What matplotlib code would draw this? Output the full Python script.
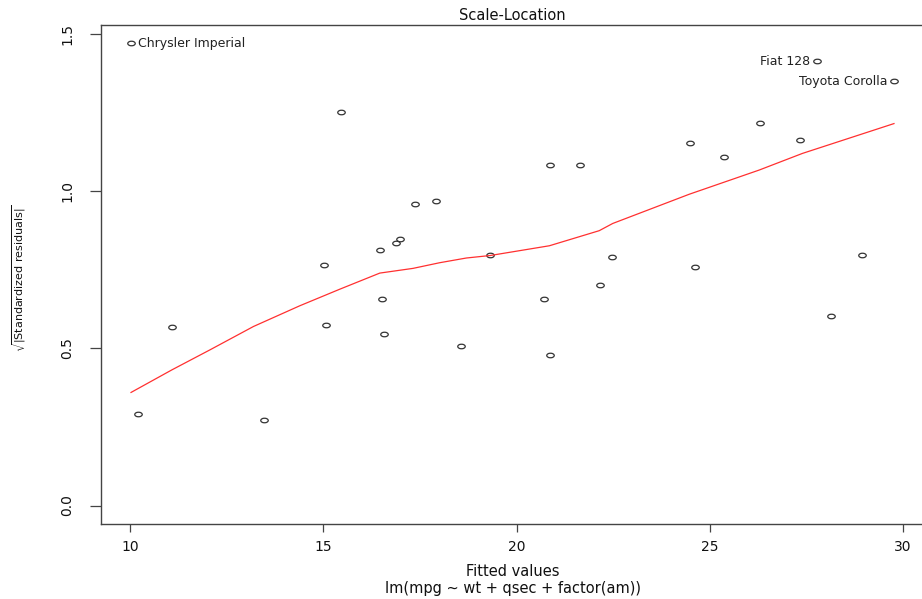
import matplotlib
matplotlib.use("Agg")
import matplotlib.pyplot as plt
from matplotlib.path import Path
from matplotlib.transforms import Affine2D

plt.rcParams['font.family'] = ['DejaVu Sans']
plt.rcParams['mathtext.fontset'] = 'dejavusans'

# fitted values and sqrt(|standardized residuals|) from lm(mpg ~ wt + qsec + factor(am))
fitted = [10.02, 27.79, 29.77, 15.46, 17.36, 17.91, 16.99, 16.87, 16.46, 15.01,
          16.51, 15.06, 16.57, 11.08, 18.57, 19.32, 10.21, 13.46, 26.31, 24.48,
          27.35, 25.36, 20.86, 21.65, 22.46, 24.63, 28.95, 22.16, 20.72, 28.14,
          20.86]
sqrt_resid = [1.471, 1.414, 1.351, 1.253, 0.960, 0.970, 0.848, 0.837, 0.815, 0.765,
              0.657, 0.575, 0.547, 0.567, 0.509, 0.798, 0.290, 0.272, 1.219, 1.154,
              1.164, 1.111, 1.085, 1.085, 0.790, 0.760, 0.798, 0.703, 0.659, 0.602,
              0.479]

# the three largest residuals get names
id_names = ["Chrysler Imperial", "Fiat 128", "Toyota Corolla"]
id_index = [0, 1, 2]
id_side = ["right", "left", "left"]

# lowess smoother
smooth_x = [10.02, 11.08, 12.07, 13.19, 14.39, 15.43, 16.46, 17.32, 18.01, 18.70,
            19.32, 20.85, 22.14, 22.49, 24.47, 26.28, 27.40, 29.77]
smooth_y = [0.360, 0.432, 0.496, 0.570, 0.636, 0.689, 0.740, 0.755, 0.773, 0.788,
            0.796, 0.827, 0.875, 0.898, 0.991, 1.068, 1.121, 1.216]

W, H = 922, 599
fig = plt.figure(figsize=(W / 100, H / 100), dpi=100)

# axes box in pixels: left 100.5, right ~924.5 (just past the edge), top 25, bottom 524
left, right, top, bottom = 100.5, 924.5, 25.0, 524.0
ax = fig.add_axes([left / W, 1 - bottom / H, (right - left) / W, (bottom - top) / H])

# R-style 4% padding around the data range
xr = max(fitted) - min(fitted)
ax.set_xlim(min(fitted) - 0.04 * xr, max(fitted) + 0.04 * xr)
yr = max(sqrt_resid)
ax.set_ylim(-0.04 * yr, yr + 0.04 * yr)

# open, slightly squashed circles
ell = Path.unit_circle().transformed(Affine2D().scale(1.65, 1.0))
ax.plot(fitted, sqrt_resid, linestyle='none', marker=ell, markersize=5.4,
        markerfacecolor='none', markeredgecolor='#333333', markeredgewidth=0.9)

ax.plot(smooth_x, smooth_y, color='#ff3030', linewidth=0.9)

for name, i, side in zip(id_names, id_index, id_side):
    dx = 5 if side == "right" else -5
    ax.annotate(name, (fitted[i], sqrt_resid[i]), xytext=(dx, 0),
                textcoords='offset points', ha='left' if side == "right" else 'right',
                va='center', fontsize=9, color='#222222')

for s in ax.spines.values():
    s.set_color('#444444')
    s.set_linewidth(1.0)

ax.set_xticks([10, 15, 20, 25, 30])
ax.set_yticks([0.0, 0.5, 1.0, 1.5])
ax.set_yticklabels(["0.0", "0.5", "1.0", "1.5"], rotation=90, va='center')
ax.tick_params(axis='x', length=5.8, width=0.9, color='#444444', pad=6,
               labelsize=10, labelcolor='#111111')
ax.tick_params(axis='y', length=8, width=0.9, color='#444444', pad=11,
               labelsize=10, labelcolor='#111111')

fig.text(512 / W, 1 - 16 / H, "Scale-Location", ha='center', va='center',
         fontsize=10.5, color='#111111')
fig.text(513 / W, 1 - 572 / H, "Fitted values", ha='center', va='center',
         fontsize=10.5, color='#111111')
fig.text(513 / W, 1 - 588 / H, "lm(mpg ~ wt + qsec + factor(am))", ha='center',
         va='center', fontsize=10.5, color='#111111')
fig.text(19 / W, 1 - 278 / H, r'$\sqrt{|\mathrm{Standardized\ residuals}|}$',
         rotation=90, ha='center', va='center', fontsize=8, color='#111111')

fig.savefig("out.png", dpi=100)
